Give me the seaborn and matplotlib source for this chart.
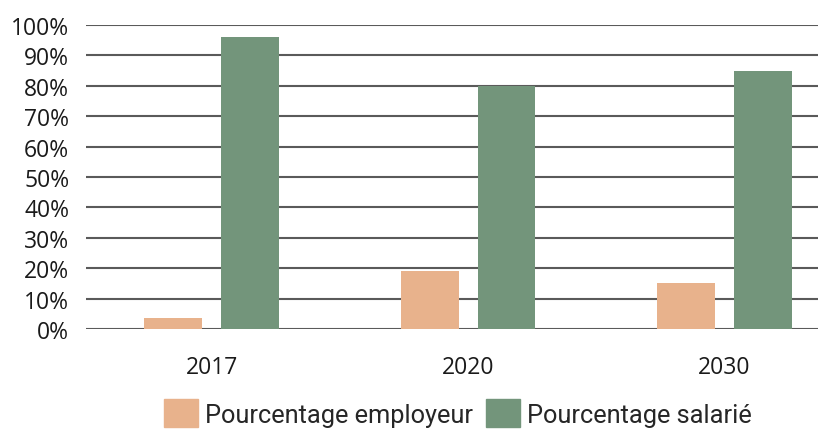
import seaborn as sns
import matplotlib.pyplot as plt
import matplotlib.ticker as mticker
import pandas as pd

annees = ["2017", "2020", "2030"]
series = ["Pourcentage employeur", "Pourcentage salarié"]
employeur = [0.035, 0.19, 0.15]
salarie = [0.96, 0.80, 0.85]
couleurs = ["#E8B28C", "#73957B"]

df = pd.DataFrame({
    "annee": annees * 2,
    "serie": [series[0]] * 3 + [series[1]] * 3,
    "valeur": employeur + salarie,
})

sns.set_theme(style="white")
plt.rcParams['font.family'] = ['Open Sans', 'DejaVu Sans']

fig = plt.figure(figsize=(8.18, 4.35), dpi=100)
ax = fig.add_axes([86 / 818, 105 / 435, 1 - 86 / 818, 304 / 435])

sns.barplot(data=df, x="annee", y="valeur", hue="serie", palette=couleurs,
            width=0.6, gap=0.247, saturation=1, linewidth=0, ax=ax, zorder=3)

ax.set_ylim(0, 1.0)
ax.set_xlim(-0.49, 2.365)
ax.yaxis.set_major_locator(mticker.MultipleLocator(0.1))
ax.yaxis.set_major_formatter(mticker.PercentFormatter(1.0, decimals=0))
ax.grid(axis="y", color="#5a5a5a", linewidth=1.5, zorder=0)
ax.set_axisbelow(True)
for s in ax.spines.values():
    s.set_visible(False)
ax.set_xlabel("")
ax.set_ylabel("")
ax.tick_params(axis="y", length=0, pad=12, labelsize=16.5, labelcolor="#1a1a1a")
ax.tick_params(axis="x", length=0, pad=19, labelsize=16.5, labelcolor="#1a1a1a")

ax.get_legend().remove()
handles = [plt.Rectangle((0, 0), 1, 1, color=c) for c in couleurs]
fig.legend(handles, series, loc="center left", bbox_to_anchor=(164 / 818, 1 - 414 / 435),
           ncol=2, frameon=False, borderpad=0, borderaxespad=0,
           handlelength=1.34, handleheight=1.26,
           handletextpad=0.28, columnspacing=0.5,
           prop={"family": ["Roboto", "DejaVu Sans"], "size": 18.3})

fig.savefig("out.png", dpi=100)
